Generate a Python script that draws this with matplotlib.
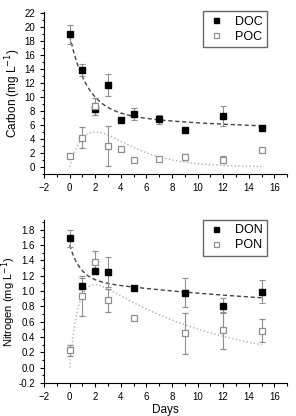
import numpy as np
import matplotlib
matplotlib.use("Agg")
import matplotlib.pyplot as plt
from matplotlib.ticker import MultipleLocator

plt.rcParams['font.family'] = ['Liberation Sans', 'DejaVu Sans']

# sampling days
days = [0, 1, 2, 3, 4, 5, 7, 9, 12, 15]
days_n = [0, 1, 2, 3, 5, 9, 12, 15]

# carbon (mg/L)
doc = [19.0, 13.9, 8.3, 11.7, 6.7, 7.6, 6.8, 5.3, 7.3, 5.6]
doc_err = [1.4, 0.8, 0.8, 1.6, 0.0, 0.9, 0.7, 0.0, 1.4, 0.3]
poc = [1.6, 4.2, 8.7, 3.0, 2.5, 1.0, 1.2, 1.4, 1.0, 2.4]
poc_err = [0.2, 1.5, 1.2, 2.9, 0.2, 0.1, 0.2, 0.4, 0.5, 0.3]

# nitrogen (mg/L)
don = [1.69, 1.07, 1.26, 1.25, 1.04, 0.98, 0.81, 0.99]
don_err = [0.11, 0.10, 0.04, 0.20, 0.02, 0.19, 0.10, 0.15]
pon = [0.23, 0.93, 1.38, 0.88, 0.65, 0.45, 0.49, 0.48]
pon_err = [0.07, 0.26, 0.14, 0.15, 0.01, 0.27, 0.24, 0.15]

# fitted curve parameters
doc_fit = (5.25, 10.65, 0.75, 2.9, 0.1)   # c, a, k1, b, k2
poc_fit = (6.8, 2.0)                      # a, tau  -> a*x*exp(-x/tau)
don_fit = (0.7, 0.45, 1.2, 0.45, 0.05)    # c, a, k1, b, k2
pon_fit = (1.43, 0.104, 1.44)             # a, k_out, k_in


def two_exp(x, p):
    c, a, k1, b, k2 = p
    return c + a * np.exp(-k1 * x) + b * np.exp(-k2 * x)


xs = np.linspace(0, 15, 200)

fig = plt.figure(figsize=(2.96, 4.16), dpi=100)
ax1 = fig.add_axes([0.149, 0.582, 0.821, 0.389])
ax2 = fig.add_axes([0.149, 0.079, 0.821, 0.391])

grey = '#8f8f8f'


def style(ax):
    ax.spines['top'].set_visible(False)
    ax.spines['right'].set_visible(False)
    ax.xaxis.set_major_locator(MultipleLocator(2))
    ax.xaxis.set_minor_locator(MultipleLocator(1))
    ax.tick_params(which='both', direction='out', labelsize=7, width=0.8)
    ax.tick_params(which='major', length=3)
    ax.tick_params(which='minor', length=1.8)
    ax.set_xlim(-2, 17)


def add_legend(ax):
    h, l = ax.get_legend_handles_labels()
    h = [x[0] for x in h]
    ax.legend(h, l, loc='upper right', fontsize=9, fancybox=False, edgecolor='#666666',
              framealpha=1, borderpad=0.35, handletextpad=0.9, handlelength=1.3,
              labelspacing=0.25, markerscale=0.8, borderaxespad=0,
              bbox_to_anchor=(0.918, 1.005))


# top panel - carbon
ax1.plot(xs, two_exp(xs, doc_fit), color='#444444', ls=(0, (3, 2)), lw=1)
ax1.plot(xs, poc_fit[0] * xs * np.exp(-xs / poc_fit[1]), color='#b0b0b0', ls=':', lw=1)
ax1.errorbar(days, doc, yerr=doc_err, fmt='s', color='black', ms=4.5,
             ecolor=grey, elinewidth=0.8, capsize=2, capthick=0.8, label='DOC', zorder=3)
ax1.errorbar(days, poc, yerr=poc_err, fmt='s', mfc='white', mec=grey, mew=0.9, ms=4.5,
             ecolor=grey, elinewidth=0.8, capsize=2, capthick=0.8, label='POC', zorder=3)
style(ax1)
ax1.set_ylim(-1, 22.2)
ax1.yaxis.set_major_locator(MultipleLocator(2))
ax1.yaxis.set_minor_locator(MultipleLocator(1))
ax1.set_ylabel('Carbon (mg L$^{-1}$)', fontsize=8.5, labelpad=1)
add_legend(ax1)

# bottom panel - nitrogen
ax2.plot(xs, two_exp(xs, don_fit), color='#444444', ls=(0, (3, 2)), lw=1)
ax2.plot(xs, pon_fit[0] * (np.exp(-pon_fit[1] * xs) - np.exp(-pon_fit[2] * xs)),
         color='#b0b0b0', ls=':', lw=1)
ax2.errorbar(days_n, don, yerr=don_err, fmt='s', color='black', ms=4.5,
             ecolor=grey, elinewidth=0.8, capsize=2, capthick=0.8, label='DON', zorder=3)
ax2.errorbar(days_n, pon, yerr=pon_err, fmt='s', mfc='white', mec=grey, mew=0.9, ms=4.5,
             ecolor=grey, elinewidth=0.8, capsize=2, capthick=0.8, label='PON', zorder=3)
style(ax2)
ax2.set_ylim(-0.2, 1.92)
ax2.yaxis.set_major_locator(MultipleLocator(0.2))
ax2.yaxis.set_minor_locator(MultipleLocator(0.1))
ax2.yaxis.set_major_formatter(matplotlib.ticker.FormatStrFormatter('%.1f'))
ax2.set_ylabel('Nitrogen (mg L$^{-1}$)', fontsize=8, labelpad=0.5)
ax2.set_xlabel('Days', fontsize=8.5, labelpad=1)
add_legend(ax2)

fig.savefig('out.png', dpi=100)
